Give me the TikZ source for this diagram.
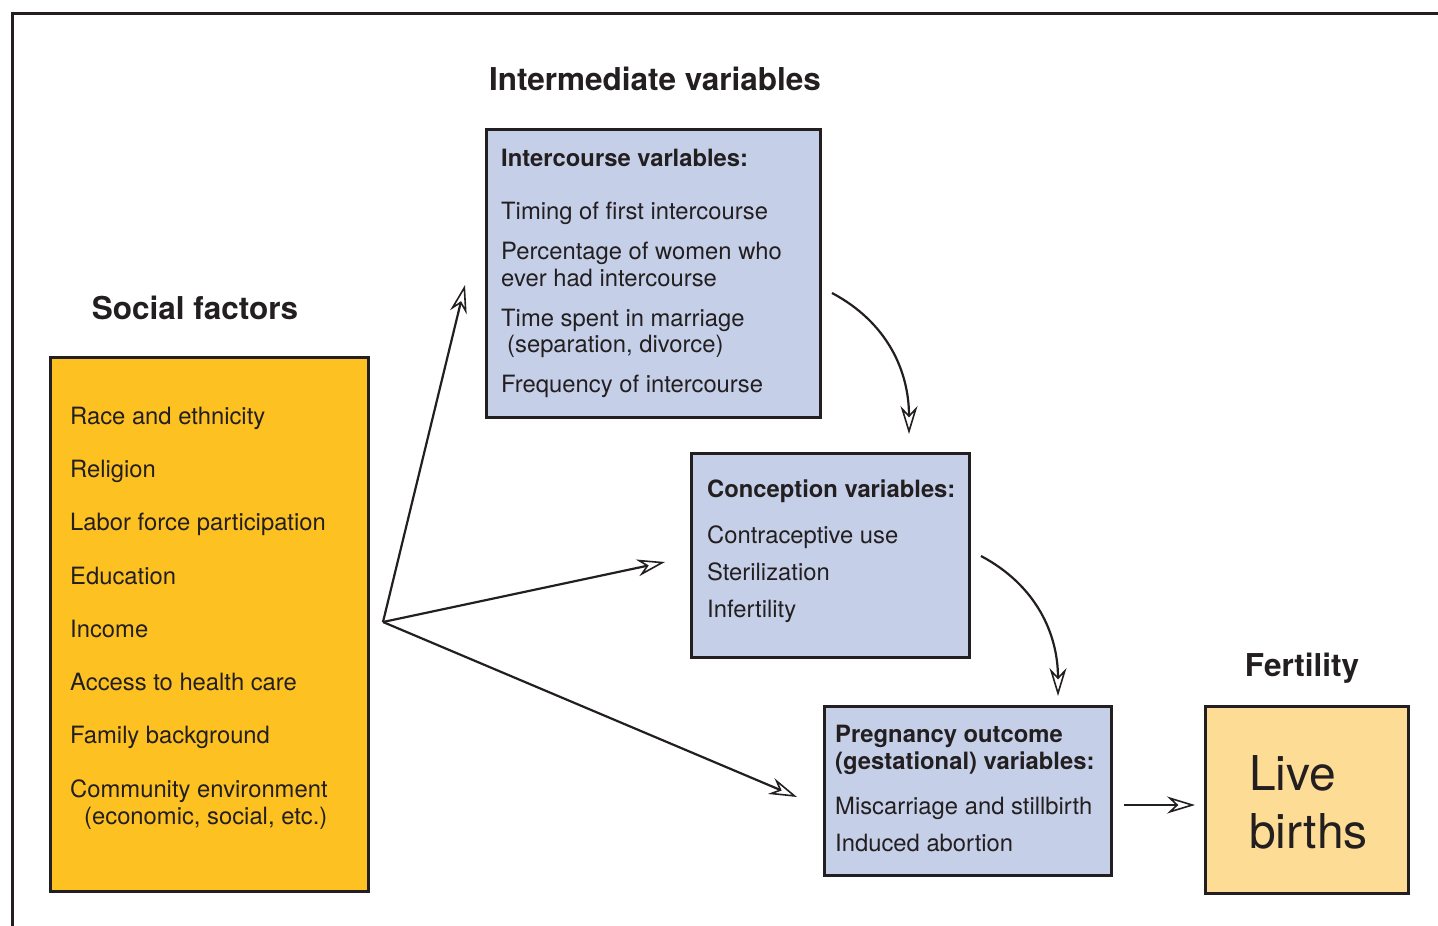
\documentclass[tikz,border=0pt]{standalone}
\usepackage{fontspec}
\setmainfont{TeX Gyre Heros}
\usetikzlibrary{arrows.meta}
\definecolor{socyellow}{HTML}{FDC122}
\definecolor{varblue}{HTML}{C5CFE8}
\definecolor{birthyellow}{HTML}{FDDD95}
\definecolor{ink}{HTML}{231F20}
\tikzset{
  box/.style={draw=ink, line width=2.6pt, anchor=north west, inner sep=0pt},
  item/.style={anchor=base west, inner sep=0pt, text=ink, font=\fontsize{23.8}{27}\selectfont},
  boxtitle/.style={item, font=\fontsize{23.8}{27}\selectfont\bfseries},
  heading/.style={anchor=base, inner sep=0pt, text=ink, font=\fontsize{31.5}{36}\selectfont\bfseries},
  link/.style={ink, line width=2.2pt, -{Stealth[open, length=28pt, width=17pt, inset=9pt, line width=1.6pt]}},
}
\begin{document}
\begin{tikzpicture}[x=1pt, y=-1pt]
  \useasboundingbox (0,0) rectangle (1438,926);
  \draw[ink, line width=3pt] (12,926) -- (12,13) -- (1438,13);

  % headings
  \node[heading] (hsocial) at (195,319) {Social factors};
  \node[heading] (hinter) at (655,90) {Intermediate variables};
  \node[heading] (hfert) at (1302,676) {Fertility};

  % boxes
  \node[box, fill=socyellow, minimum width=318pt, minimum height=534pt] (social) at (49,356) {};
  \node[box, fill=varblue, minimum width=334pt, minimum height=288pt] (inter) at (485,128) {};
  \node[box, fill=varblue, minimum width=278pt, minimum height=204pt] (concep) at (690,452) {};
  \node[box, fill=varblue, minimum width=287pt, minimum height=169pt] (preg) at (823,705) {};
  \node[box, fill=birthyellow, minimum width=203pt, minimum height=187pt] (births) at (1204,705) {};

  % social factors
  \node[item] (s1) at (70,424) {Race and ethnicity};
  \node[item] (s2) at (70,477) {Religion};
  \node[item] (s3) at (70,530) {Labor force participation};
  \node[item] (s4) at (70,584) {Education};
  \node[item] (s5) at (70,637) {Income};
  \node[item] (s6) at (70,690) {Access to health care};
  \node[item] (s7) at (70,743) {Family background};
  \node[item] (s8) at (70,797) {Community environment};
  \node[item] (s8b) at (84,824) {(economic, social, etc.)};

  % intercourse variables
  \node[boxtitle] (i0) at (501,166) {Intercourse varlables:};
  \node[item] (i1) at (501,219) {Timing of first intercourse};
  \node[item] (i2) at (501,259) {Percentage of women who};
  \node[item] (i2b) at (501,286) {ever had intercourse};
  \node[item] (i3) at (501,326) {Time spent in marriage};
  \node[item] (i3b) at (507,352) {(separation, divorce)};
  \node[item] (i4) at (501,392) {Frequency of intercourse};

  % conception variables
  \node[boxtitle] (c0) at (707,497) {Conception variables:};
  \node[item] (c1) at (707,543) {Contraceptive use};
  \node[item] (c2) at (707,580) {Sterilization};
  \node[item] (c3) at (707,617) {Infertility};

  % pregnancy outcome variables
  \node[boxtitle] (p0) at (835,742) {Pregnancy outcome};
  \node[boxtitle] (p0b) at (835,769) {(gestational) variables:};
  \node[item] (p1) at (835,814) {Miscarriage and stillbirth};
  \node[item] (p2) at (835,851) {Induced abortion};

  % live births
  \node[item, font=\fontsize{48}{58}\selectfont] (b1) at (1249,790) {Live};
  \node[item, font=\fontsize{48}{58}\selectfont] (b2) at (1249,848) {births};

  % arrows
  \coordinate (src) at (383,622);
  \coordinate (tointer) at (465,285);
  \coordinate (toconcep) at (665,562);
  \coordinate (topreg) at (797,797);
  \draw[link] (src) -- (tointer);
  \draw[link] (src) -- (toconcep);
  \draw[link] (src) -- (topreg);
  \coordinate (ia) at (832,293);
  \coordinate (ib) at (909,434);
  \draw[link] (ia) to[out=-28, in=90] (ib);
  \coordinate (ca) at (981,556);
  \coordinate (cb) at (1058,696);
  \draw[link] (ca) to[out=-28, in=90] (cb);
  \coordinate (pa) at (1124,805);
  \coordinate (pb) at (1195,805);
  \draw[link] (pa) -- (pb);
\end{tikzpicture}
\end{document}
